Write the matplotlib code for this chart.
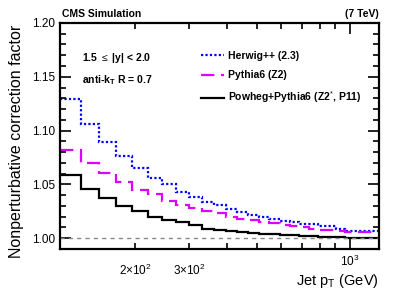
import matplotlib
matplotlib.use("Agg")
import matplotlib.pyplot as plt
import numpy as np
from matplotlib.ticker import FixedLocator, NullFormatter, MultipleLocator

plt.rcParams['font.family'] = ['Liberation Sans', 'DejaVu Sans']
plt.rcParams['mathtext.fontset'] = 'custom'
plt.rcParams['mathtext.rm'] = 'Liberation Sans'
plt.rcParams['mathtext.bf'] = 'Liberation Sans:bold'

# jet pT bin edges (GeV)
edges = [114, 133, 153, 174, 196, 220, 245, 272, 300, 330, 362, 395, 430, 468,
         507, 548, 592, 638, 686, 737, 790, 846, 905, 967, 1032, 1101, 1172, 1248]

herwig = [1.129, 1.106, 1.089, 1.076, 1.065, 1.056, 1.050, 1.043, 1.038, 1.034,
          1.031, 1.027, 1.024, 1.022, 1.020, 1.018, 1.016, 1.015, 1.013, 1.013,
          1.011, 1.011, 1.009, 1.007, 1.007, 1.007, 1.007]
pythia = [1.082, 1.070, 1.061, 1.052, 1.045, 1.041, 1.035, 1.031, 1.028, 1.025,
          1.023, 1.020, 1.018, 1.017, 1.015, 1.014, 1.012, 1.011, 1.010, 1.009,
          1.008, 1.008, 1.007, 1.006, 1.006, 1.006, 1.006]
powheg = [1.059, 1.046, 1.037, 1.030, 1.025, 1.020, 1.017, 1.015, 1.012, 1.009,
          1.008, 1.007, 1.006, 1.005, 1.004, 1.004, 1.003, 1.003, 1.002, 1.002,
          1.001, 1.001, 1.001, 1.000, 1.000, 1.000, 1.000]

labels = ['Herwig++ (2.3)', 'Pythia6 (Z2)', 'Powheg+Pythia6 (Z2$^{*}$, P11)']

fig = plt.figure(figsize=(3.99, 2.94), dpi=100)
ax = fig.add_axes([0.1504, 0.153, 0.7996, 0.769])

ax.axhline(1.0, color='#888888', ls=(0, (3, 3)), lw=1.0)
h1 = ax.stairs(herwig, edges, color='#0000ff', ls=(0, (1, 1)), lw=1.6, baseline=None)
h2 = ax.stairs(pythia, edges, color='#dd00ff', ls=(0, (6, 3)), lw=1.6, baseline=None)
h3 = ax.stairs(powheg, edges, color='black', ls='-', lw=1.6, baseline=None)

ax.set_xscale('log')
ax.set_xlim(114, 1248)
ax.set_ylim(0.99, 1.2)

ax.xaxis.set_minor_locator(FixedLocator([200, 300, 400, 500, 600, 700, 800, 900]))
ax.xaxis.set_minor_formatter(NullFormatter())
ax.set_xticks([1000])
ax.set_xticklabels(['$10^{3}$'])
ax.yaxis.set_minor_locator(MultipleLocator(0.01))
ax.set_yticks([1.00, 1.05, 1.10, 1.15, 1.20])
ax.set_yticklabels(['1.00', '1.05', '1.10', '1.15', '1.20'])

ax.tick_params(which='both', direction='in', top=True, right=True, width=1.2,
               labelsize=8.5, colors='black')
ax.tick_params(which='major', length=8)
ax.tick_params(which='minor', length=4)
for s in ax.spines.values():
    s.set_linewidth(1.6)

for v, t in [(200, r'2$\times$10$^{2}$'), (300, r'3$\times$10$^{2}$')]:
    ax.text(v, -0.06, t, transform=ax.get_xaxis_transform(), ha='center', va='top', fontsize=8.5)

ax.set_ylabel('Nonperturbative correction factor', fontsize=11.5)
ax.yaxis.set_label_coords(-0.112, 0.475)
ax.set_xlabel('Jet p$_{\\mathregular{T}}$ (GeV)', fontsize=10.5, loc='right', labelpad=2)

fig.text(0.156, 0.935, 'CMS Simulation', fontsize=7.5, fontweight='bold', ha='left', va='bottom')
fig.text(0.948, 0.935, '(7 TeV)', fontsize=7.5, fontweight='bold', ha='right', va='bottom')

ax.text(0.07, 0.845, r'1.5 $\leq$ |y| < 2.0', transform=ax.transAxes, fontsize=7.5,
        fontweight='bold', va='center')
ax.text(0.07, 0.745, r'anti-k$_{\mathbf{T}}$ R = 0.7', transform=ax.transAxes, fontsize=7.5,
        fontweight='bold', va='center')

leg = ax.legend([h1, h2, h3], labels, loc='upper left', bbox_to_anchor=(0.43, 0.895),
                frameon=False, fontsize=7.5, handlelength=2.2, handletextpad=0.4,
                labelspacing=0.9, borderaxespad=0)
for t in leg.get_texts():
    t.set_fontweight('bold')

fig.savefig('out.png', dpi=100)
